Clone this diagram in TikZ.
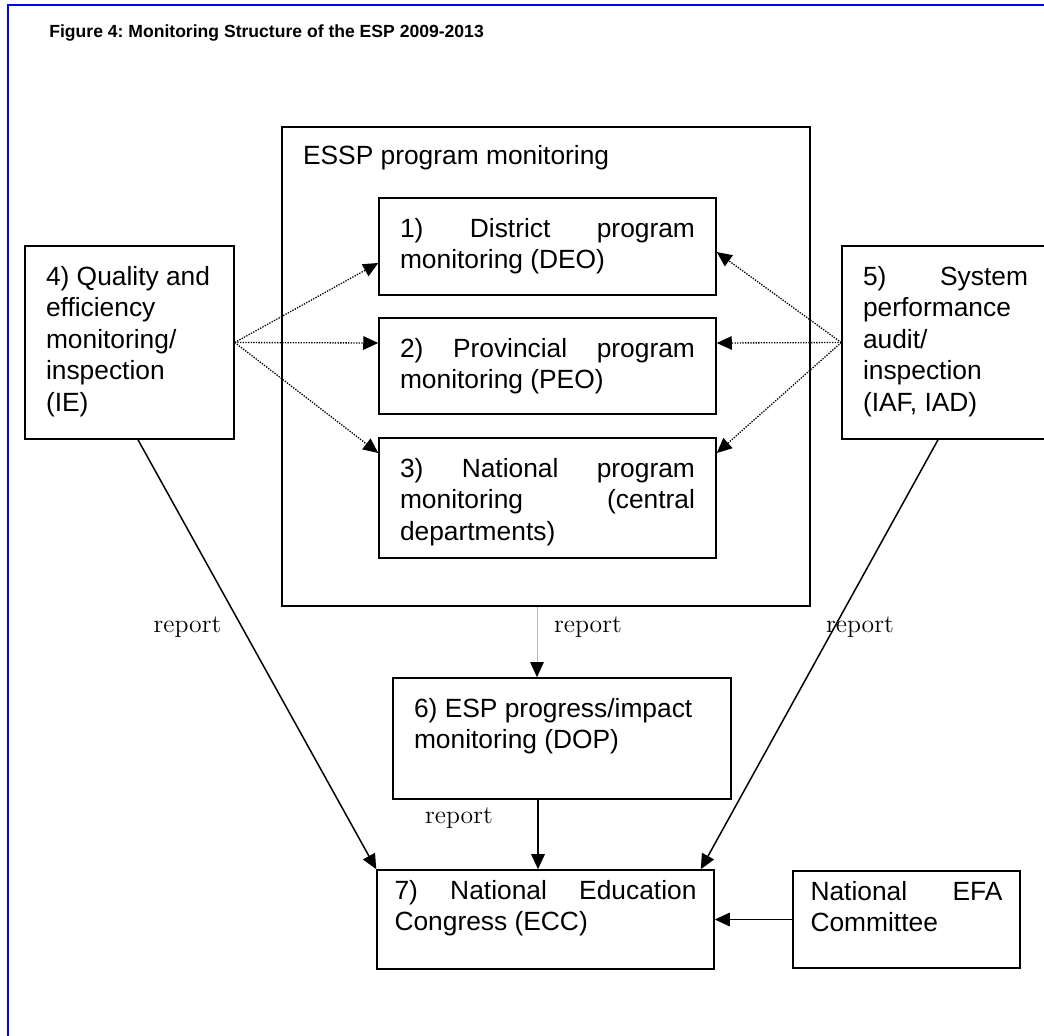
\documentclass[tikz,border=0pt]{standalone}
\usepackage{fontspec}
\newfontfamily\arialfont{Liberation Sans}
\usepackage{tikz}
\usetikzlibrary{arrows.meta}
\definecolor{framecol}{RGB}{0,0,255}
\frenchspacing

\begin{document}
\begin{tikzpicture}[x=0.02cm,y=-0.02cm,>={Triangle[length=3mm,width=2.7mm]},line cap=butt,
  box/.style={draw,line width=0.9pt,inner xsep=0.42cm,inner ysep=0.4cm,
    font=\arialfont\fontsize{15}{18}\selectfont},
  flatbox/.style={box,inner xsep=0.35cm,inner ysep=0.2cm},
  relay/.style={->,line width=0.75pt,dash pattern=on 0.75pt off 0.75pt},
  feed/.style={->,line width=0.85pt},
  note/.style={anchor=base,font=\fontsize{14.6}{17}\selectfont}]
\useasboundingbox (0,0) rectangle (1044,1035);
\draw[framecol,line width=1.1pt] (8,1040) -- (8,5) -- (1050,5);
\node[anchor=base west,inner sep=0pt,font=\arialfont\bfseries\fontsize{10}{12}\selectfont] (title) at (49,37) {Figure 4: Monitoring Structure of the ESP 2009-2013};
\node[box,inner ysep=0.36cm] (essp) at (546,366.5) {\parbox[c][8.86cm][t]{9.72cm}{ESSP program monitoring}};
\node[box] (dist) at (547.5,246.5) {\parbox[c][1.14cm][t]{5.9cm}{1)\hfill District\hfill program\\monitoring (DEO)}};
\node[box] (prov) at (547.5,366) {\parbox[c][1.12cm][t]{5.9cm}{2)\hfill Provincial\hfill program\\monitoring (PEO)}};
\node[box] (natl) at (547.5,498) {\parbox[c][1.6cm][t]{5.9cm}{3)\hfill National\hfill program\\monitoring\hfill (central\\departments)}};
\node[box] (qual) at (129.5,342.5) {\parbox[c][3.06cm][t]{3.34cm}{4) Quality and\\efficiency\\monitoring/\\inspection\\(IE)}};
\node[box] (audit) at (945.5,342.5) {\parbox[c][3.06cm][t]{3.3cm}{5)\hfill System\\performance\\audit/\\inspection\\(IAF, IAD)}};
\node[box] (prog) at (562,738.5) {\parbox[c][1.62cm][t]{5.92cm}{6) ESP progress/impact\\monitoring (DOP)}};
\node[flatbox] (cong) at (545.5,919.5) {\parbox[c][1.58cm][t]{6.04cm}{7)\hfill National\hfill Education\\Congress (ECC)}};
\node[flatbox] (efa) at (906.5,919.5) {\parbox[c][1.54cm][t]{3.84cm}{National\hfill EFA\\Committee}};
\draw[relay] (qual.east) -- ([yshift=-0.33cm]dist.west);
\draw[relay] (qual.east) -- ([yshift=0.46cm]prov.west);
\draw[relay] (qual.east) -- ([yshift=0.9cm]natl.west);
\draw[relay] (audit.west) -- ([yshift=-0.11cm]dist.east);
\draw[relay] (audit.west) -- ([yshift=0.46cm]prov.east);
\draw[relay] (audit.west) -- ([yshift=0.9cm]natl.east);
\coordinate (down) at ([xshift=-0.18cm]essp.south);
\draw[-{Triangle[length=3mm,width=2.7mm,color=black]},gray!55,line width=0.4pt] (down) -- (down |- prog.north);
\coordinate (up) at ([xshift=-0.48cm]prog.south);
\draw[feed] (up) -- (up |- cong.north);
\draw[feed] ([xshift=0.17cm]qual.south) -- (cong.north west);
\draw[feed] ([xshift=-0.15cm]audit.south) -- ([xshift=-0.28cm]cong.north east);
\draw[feed] (efa.west) -- (efa.west -| cong.east);
\node[note] (rep1) at (187.5,632) {report};
\node[note] (rep2) at (588,632) {report};
\node[note] (rep3) at (860,632) {report};
\node[note] (rep4) at (459,823) {report};
\end{tikzpicture}
\end{document}
